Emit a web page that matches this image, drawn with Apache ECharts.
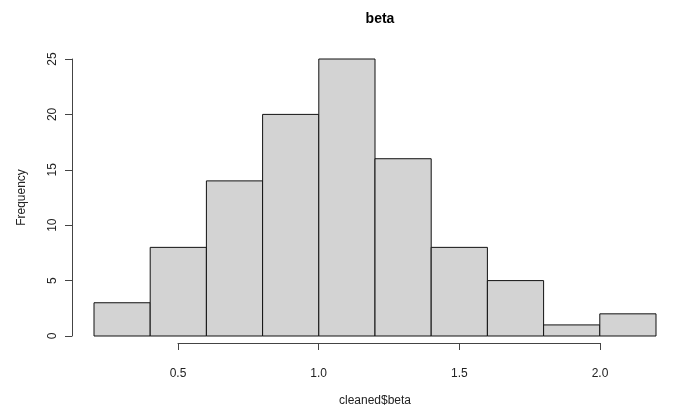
<!DOCTYPE html>
<html>
<head>
<meta charset="utf-8">
<script src="https://cdn.jsdelivr.net/npm/echarts@6/dist/echarts.min.js"></script>
<style>
  html, body { margin: 0; padding: 0; background: #fff; overflow: hidden; }
  #chart { width: 673px; height: 412px; }
</style>
</head>
<body>
<div id="chart"></div>
<script>
// Histogram bins of cleaned$beta (width 0.2)
const binStarts = [0.2, 0.4, 0.6, 0.8, 1.0, 1.2, 1.4, 1.6, 1.8, 2.0];
const binEnds   = [0.4, 0.6, 0.8, 1.0, 1.2, 1.4, 1.6, 1.8, 2.0, 2.2];
const counts    = [3, 8, 14, 20, 25, 16, 8, 5, 1, 2];
const xTicks    = [0.5, 1.0, 1.5, 2.0];
const yTicks    = [0, 5, 10, 15, 20, 25];

const FONT = 'Liberation Sans, Arial, sans-serif';
const INK = '#222';

const binData = binStarts.map((s, i) => [s, binEnds[i], counts[i]]);

const chart = echarts.init(document.getElementById('chart'), null, { renderer: 'canvas' });

chart.setOption({
  animation: false,
  backgroundColor: '#ffffff',
  title: {
    text: 'beta',
    left: 375,
    top: 7,
    textAlign: 'center',
    textStyle: { fontFamily: FONT, fontSize: 14, fontWeight: 'bold', color: '#000' }
  },
  grid: [
    // plotting region for the bars
    { left: 94, right: 17, top: 59, bottom: 69 },
    // region that carries the x tick axis (spans 0.5 .. 2.0 only)
    { left: 178, right: 73, top: 59, bottom: 69 }
  ],
  xAxis: [
    {
      gridIndex: 0, type: 'value', min: binStarts[0], max: binEnds[binEnds.length - 1],
      axisLine: { show: false }, axisTick: { show: false }, axisLabel: { show: false },
      splitLine: { show: false },
      name: 'cleaned$beta', nameLocation: 'middle', nameGap: 59,
      nameTextStyle: { fontFamily: FONT, fontSize: 12, color: INK }
    },
    {
      gridIndex: 1, type: 'value', min: xTicks[0], max: xTicks[xTicks.length - 1], interval: 0.5,
      position: 'bottom', offset: 12,
      axisLine: { show: true, lineStyle: { color: '#444', width: 1 } },
      axisTick: { show: true, length: 7, lineStyle: { color: '#444' } },
      axisLabel: {
        margin: 13, fontFamily: FONT, fontSize: 12, color: INK,
        formatter: v => v.toFixed(1)
      },
      splitLine: { show: false }
    }
  ],
  yAxis: [
    {
      gridIndex: 0, type: 'value', min: yTicks[0], max: yTicks[yTicks.length - 1], interval: 5,
      position: 'left', offset: 22,
      axisLine: { show: true, lineStyle: { color: '#444', width: 1 } },
      axisTick: { show: true, length: 7, lineStyle: { color: '#444' } },
      axisLabel: { rotate: 90, margin: 13, fontFamily: FONT, fontSize: 12, color: INK },
      splitLine: { show: false },
      name: 'Frequency', nameLocation: 'middle', nameGap: 44, nameRotate: 90,
      nameTextStyle: { fontFamily: FONT, fontSize: 12, color: INK }
    },
    {
      gridIndex: 1, type: 'value', min: 0, max: 25, show: false
    }
  ],
  series: [{
    type: 'custom',
    xAxisIndex: 0, yAxisIndex: 0,
    data: binData,
    renderItem: function (params, api) {
      const p0 = api.coord([api.value(0), 0]);
      const p1 = api.coord([api.value(1), api.value(2)]);
      return {
        type: 'rect',
        shape: { x: p0[0], y: p1[1], width: p1[0] - p0[0], height: p0[1] - p1[1] },
        style: { fill: '#d3d3d3', stroke: '#111', lineWidth: 1 }
      };
    }
  }]
});
</script>
</body>
</html>
